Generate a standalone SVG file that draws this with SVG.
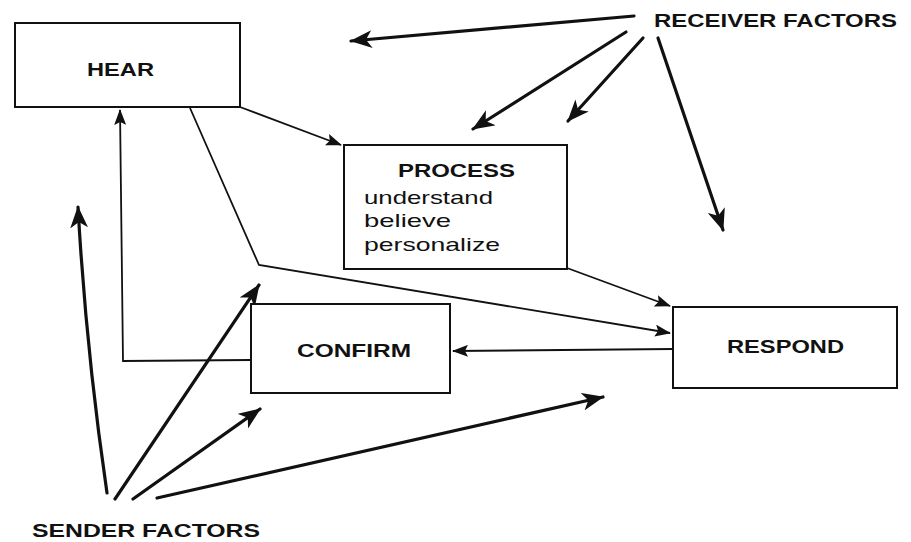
<svg xmlns="http://www.w3.org/2000/svg" width="911" height="542" viewBox="0 0 911 542">
<style>
.box{fill:#fff;stroke:#111;stroke-width:2}
.lbl{font-family:"Liberation Sans",Arial,sans-serif;font-weight:bold;font-size:18px;fill:#111}
.sub{font-family:"Liberation Sans",Arial,sans-serif;font-size:19px;fill:#111}
.con{fill:none;stroke:#111;stroke-width:1.8}
.fac{fill:none;stroke:#111;stroke-width:3.2;stroke-linecap:round}
</style>
<defs>
<marker id="ah" markerUnits="userSpaceOnUse" markerWidth="16" markerHeight="12" viewBox="0 0 16 12" refX="15" refY="6" orient="auto">
<path d="M0,0 L16,6 L0,12 L3,6 z" fill="#111"/>
</marker>
<marker id="fh" markerUnits="userSpaceOnUse" markerWidth="22" markerHeight="18" viewBox="0 0 22 18" refX="21" refY="9" orient="auto">
<path d="M0,0 L22,9 L0,18 L6,9 z" fill="#111"/>
</marker>
</defs>
<rect width="911" height="542" fill="#fff"/>
<g id="connectors">
<line class="con" x1="240" y1="107" x2="341" y2="145" marker-end="url(#ah)"/>
<polyline class="con" points="190,108 259,265 670,333" marker-end="url(#ah)"/>
<line class="con" x1="567" y1="268" x2="670" y2="306" marker-end="url(#ah)"/>
<line class="con" x1="673" y1="349" x2="453" y2="351" marker-end="url(#ah)"/>
<polyline class="con" points="251,360 123,361 120,110" marker-end="url(#ah)"/>
<line class="fac" x1="634" y1="16" x2="351" y2="41" marker-end="url(#fh)"/>
<line class="fac" x1="626" y1="32" x2="473" y2="129" marker-end="url(#fh)"/>
<line class="fac" x1="643" y1="38" x2="568" y2="121" marker-end="url(#fh)"/>
<line class="fac" x1="658" y1="38" x2="723" y2="230" marker-end="url(#fh)"/>
<path class="fac" d="M107,493 Q86,350 78,207" marker-end="url(#fh)"/>
<line class="fac" x1="115" y1="499" x2="259" y2="285" marker-end="url(#fh)"/>
<line class="fac" x1="133" y1="499" x2="260" y2="409" marker-end="url(#fh)"/>
<line class="fac" x1="157" y1="498" x2="603" y2="397" marker-end="url(#fh)"/>
</g>
<g id="hear">
<rect class="box" x="15" y="23" width="225" height="84"/>
<text class="lbl" x="87" y="76" textLength="67" lengthAdjust="spacingAndGlyphs">HEAR</text>
</g>
<g id="process">
<rect class="box" x="344" y="145" width="223" height="124"/>
<text class="lbl" x="398" y="177" textLength="117" lengthAdjust="spacingAndGlyphs">PROCESS</text>
<text class="sub" x="364" y="204" textLength="129" lengthAdjust="spacingAndGlyphs">understand</text>
<text class="sub" x="364" y="227" textLength="87" lengthAdjust="spacingAndGlyphs">believe</text>
<text class="sub" x="364" y="251" textLength="136" lengthAdjust="spacingAndGlyphs">personalize</text>
</g>
<g id="confirm">
<rect class="box" x="251" y="304" width="199" height="89"/>
<text class="lbl" x="297" y="357" textLength="114" lengthAdjust="spacingAndGlyphs">CONFIRM</text>
</g>
<g id="respond">
<rect class="box" x="673" y="307" width="224" height="81"/>
<text class="lbl" x="727" y="353" textLength="117" lengthAdjust="spacingAndGlyphs">RESPOND</text>
</g>
<g id="receiver-factors">
<text class="lbl" x="654" y="27" textLength="243" lengthAdjust="spacingAndGlyphs">RECEIVER FACTORS</text>
</g>
<g id="sender-factors">
<text class="lbl" x="32" y="537" textLength="228" lengthAdjust="spacingAndGlyphs">SENDER FACTORS</text>
</g>
</svg>
